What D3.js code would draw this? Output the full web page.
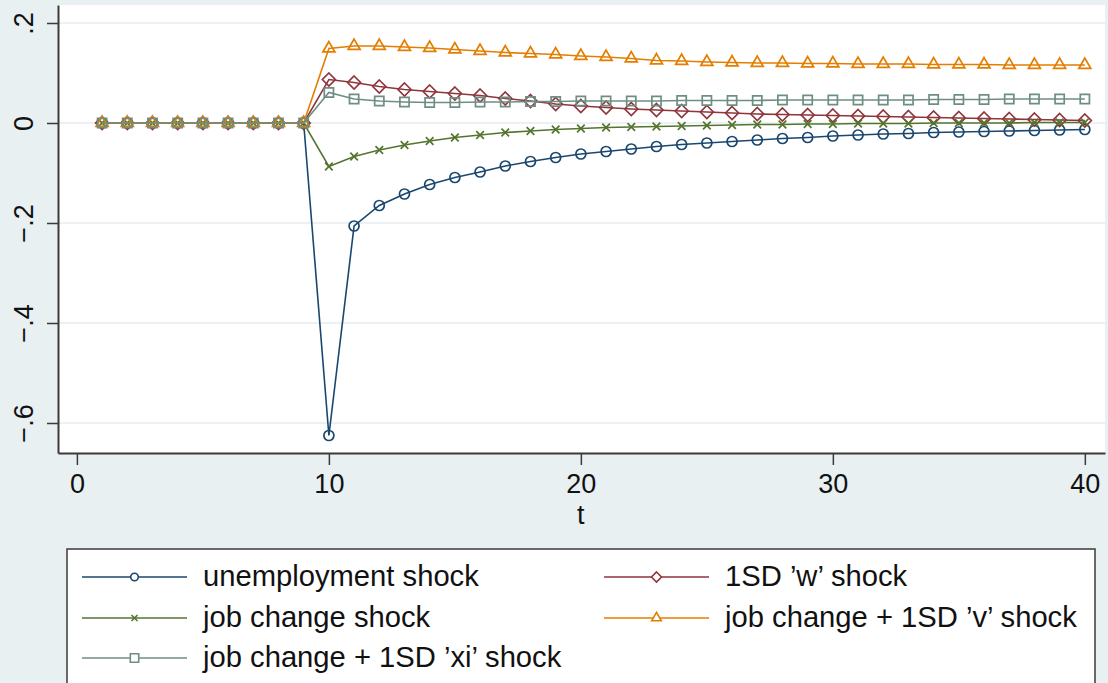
<!DOCTYPE html>
<html>
<head>
<meta charset="utf-8">
<script src="https://cdn.jsdelivr.net/npm/d3@7"></script>
<style>
  html, body { margin: 0; padding: 0; background: #e8f0f2; }
  svg { display: block; font-family: "Liberation Sans", Arial, sans-serif; }
</style>
</head>
<body>
<svg id="chart" width="1108" height="683"></svg>
<script>
// ---------- data ----------
const periods = d3.range(1, 41);
const unemploymentShock = [0,0,0,0,0,0,0,0,0,
  -0.625,-0.206,-0.165,-0.142,-0.123,-0.109,-0.098,-0.086,-0.077,-0.069,-0.062,
  -0.057,-0.052,-0.047,-0.043,-0.040,-0.037,-0.034,-0.031,-0.029,-0.026,
  -0.024,-0.022,-0.021,-0.019,-0.018,-0.017,-0.016,-0.015,-0.014,-0.013];
const wShock = [0,0,0,0,0,0,0,0,0,
  0.087,0.081,0.073,0.067,0.063,0.059,0.055,0.049,0.044,0.038,0.034,
  0.031,0.028,0.026,0.024,0.022,0.020,0.018,0.017,0.016,0.015,
  0.014,0.013,0.012,0.011,0.010,0.009,0.008,0.007,0.006,0.005];
const jobChangeShock = [0,0,0,0,0,0,0,0,0,
  -0.087,-0.067,-0.054,-0.044,-0.036,-0.029,-0.024,-0.019,-0.016,-0.013,-0.011,
  -0.009,-0.008,-0.007,-0.006,-0.005,-0.004,-0.003,-0.003,-0.002,-0.002,
  -0.001,-0.001,-0.001,0.000,0.000,0.000,0.000,0.001,0.001,0.001];
const vShock = [0,0,0,0,0,0,0,0,0,
  0.149,0.154,0.154,0.152,0.150,0.147,0.144,0.141,0.139,0.137,0.134,
  0.132,0.129,0.125,0.124,0.122,0.121,0.120,0.120,0.119,0.119,
  0.118,0.118,0.118,0.117,0.117,0.117,0.116,0.116,0.116,0.116];
const xiShock = [0,0,0,0,0,0,0,0,0,
  0.061,0.048,0.044,0.042,0.041,0.041,0.042,0.042,0.043,0.043,0.044,
  0.044,0.044,0.044,0.045,0.045,0.045,0.045,0.046,0.046,0.046,
  0.046,0.046,0.046,0.047,0.047,0.047,0.048,0.048,0.048,0.048];

const seriesNames = ["unemployment shock", "1SD \u2019w\u2019 shock", "job change shock",
  "job change + 1SD \u2019v\u2019 shock", "job change + 1SD \u2019xi\u2019 shock"];
const seriesValues = [unemploymentShock, wShock, jobChangeShock, vShock, xiShock];
const seriesColors = ["#1a476f", "#90353b", "#55752f", "#e37e00", "#6e8e84"];
const seriesMarkers = ["circle", "diamond", "x", "triangle", "square"];
const xTicks = [0, 10, 20, 30, 40];
const yTicks = [-0.6, -0.4, -0.2, 0, 0.2];
const xTitle = "t";

// ---------- layout ----------
const plot = { left: 58, right: 1105, top: 5, bottom: 453 };
const svg = d3.select("#chart");

const x = d3.scaleLinear().domain([-0.75, 40.8]).range([plot.left, plot.right]);
const y = d3.scaleLinear().domain([0.236, -0.66]).range([plot.top, plot.bottom]);

// background
svg.append("rect").attr("width", 1108).attr("height", 683).attr("fill", "#e8f0f2");
svg.append("rect").attr("x", plot.left).attr("y", plot.top)
  .attr("width", plot.right - plot.left).attr("height", plot.bottom - plot.top)
  .attr("fill", "#ffffff");

// gridlines
svg.append("g").selectAll("line").data(yTicks).join("line")
  .attr("x1", plot.left).attr("x2", plot.right)
  .attr("y1", d => y(d)).attr("y2", d => y(d))
  .attr("stroke", "#e4edf0").attr("stroke-width", 1.5);

// axes
const fmt = d => d === 0 ? "0" : d3.format(".1f")(d).replace("0.", ".");
const yAxis = svg.append("g").attr("transform", `translate(${plot.left},0)`)
  .call(d3.axisLeft(y).tickValues(yTicks).tickFormat(fmt).tickSize(11).tickSizeOuter(0));
yAxis.selectAll("text")
  .attr("transform", "rotate(-90)")
  .attr("x", 0).attr("y", -25).attr("dy", "0")
  .attr("text-anchor", "middle");

const xAxis = svg.append("g").attr("transform", `translate(0,${plot.bottom})`)
  .call(d3.axisBottom(x).tickValues(xTicks).tickSize(12).tickSizeOuter(0));
xAxis.selectAll("text").attr("y", 40).attr("dy", "0");

[yAxis, xAxis].forEach(g => {
  g.select(".domain").attr("stroke", "#3a3a3a").attr("stroke-width", 2);
  g.selectAll(".tick line").attr("stroke", "#3a3a3a").attr("stroke-width", 1.5);
  g.selectAll("text").attr("fill", "#111").style("font-size", "27px")
    .style("font-family", "'Liberation Sans', Arial, sans-serif");
});

svg.append("text").attr("x", (x(0) + x(40)) / 2).attr("y", 524)
  .attr("text-anchor", "middle").attr("fill", "#111")
  .style("font-size", "27px").text(xTitle);

// markers
function markerPath(type, s) {
  switch (type) {
    case "circle": return d3.symbol().type(d3.symbolCircle).size(Math.PI * s * s)();
    case "diamond": return `M0,${-s}L${s},0L0,${s}L${-s},0Z`;
    case "triangle": {
      const h = s * Math.sqrt(3);
      return `M0,${-h * 2 / 3}L${s},${h / 3}L${-s},${h / 3}Z`;
    }
    case "square": return `M${-s},${-s}H${s}V${s}H${-s}Z`;
    case "x": return `M${-s},${-s}L${s},${s}M${-s},${s}L${s},${-s}`;
  }
}
const markerSize = { circle: 5, diamond: 6.5, triangle: 6, square: 4.6, x: 3.8 };
const legendMarkerSize = { circle: 3.8, diamond: 5, triangle: 4.8, square: 4.2, x: 3 };

const line = d3.line().x((d, i) => x(periods[i])).y(d => y(d));

seriesValues.forEach((vals, k) => {
  const g = svg.append("g");
  g.append("path").datum(vals).attr("d", line)
    .attr("fill", "none").attr("stroke", seriesColors[k]).attr("stroke-width", 1.6);
  g.selectAll("path.m").data(vals).join("path").attr("class", "m")
    .attr("transform", (d, i) => `translate(${x(periods[i])},${y(d)})`)
    .attr("d", markerPath(seriesMarkers[k], markerSize[seriesMarkers[k]]))
    .attr("fill", "none").attr("stroke", seriesColors[k]).attr("stroke-width", 1.7);
});

// legend
const legend = svg.append("g");
legend.append("rect").attr("x", 67).attr("y", 549).attr("width", 1028).attr("height", 200)
  .attr("fill", "#ffffff").attr("stroke", "#3a3a3a").attr("stroke-width", 1.5);
const colX = [82, 604];
const rowY = [577, 618, 658];
seriesNames.forEach((name, k) => {
  const cx = colX[k % 2], cy = rowY[Math.floor(k / 2)];
  const g = legend.append("g").attr("transform", `translate(${cx},${cy})`);
  g.append("line").attr("x1", 0).attr("x2", 105).attr("y1", 0).attr("y2", 0)
    .attr("stroke", seriesColors[k]).attr("stroke-width", 1.6);
  g.append("path").attr("transform", "translate(52.5,0)")
    .attr("d", markerPath(seriesMarkers[k], legendMarkerSize[seriesMarkers[k]]))
    .attr("fill", "#ffffff").attr("stroke", seriesColors[k]).attr("stroke-width", 1.6);
  g.append("text").attr("x", 121).attr("y", 9).attr("fill", "#111")
    .style("font-size", "29.2px").text(name);
});
</script>
</body>
</html>
